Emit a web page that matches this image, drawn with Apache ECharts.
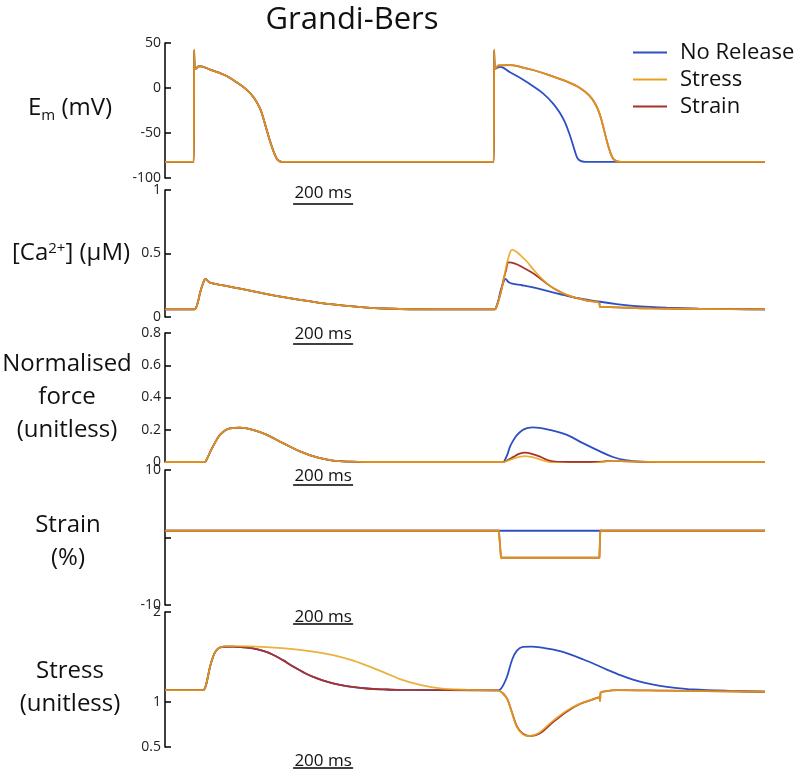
<!DOCTYPE html>
<html><head><meta charset="utf-8">
<script src="https://cdn.jsdelivr.net/npm/echarts@6/dist/echarts.min.js"></script>
<style>html,body{margin:0;padding:0;background:#fff}#c{width:800px;height:771px}</style>
</head><body><div id="c"></div>
<script>
// ---------- DATA (time in ms, value in panel units) ----------
const seriesNames = ['No Release', 'Stress', 'Strain'];
const scaleBarMs = 200;
const scaleBarStart = 427;

// Membrane potential (mV)
const emBeat1 = [[0,-82],[90,-82],[96,-82],[97,42],[98,30],[100,21],[105,22],[112,24],[120,24],[150,20.5],[180,17],[207,13],[240,6],[273,-2],[297,-11],[317,-23],[330,-36],[342,-50],[354,-63],[366,-74],[376,-80],[390,-82],[420,-82],[1090,-82],[1096,-82]];
const emNoRelease2 = [[1097,42],[1098,30],[1100,21],[1105,22],[1117,23.5],[1150,17.5],[1190,10],[1227,2],[1260,-6],[1293,-17],[1315,-27],[1333,-38],[1347,-50],[1358,-61],[1367,-71],[1375,-78],[1385,-81],[1400,-82],[1430,-82],[2000,-82]];
const emStress2 = [[1097,42],[1098,30],[1100,21],[1105,23],[1112,25],[1150,25.5],[1190,23],[1227,20],[1283,14],[1340,7],[1383,0],[1413,-8],[1435,-18],[1450,-30],[1460,-42],[1469,-54],[1478,-65],[1487,-74],[1495,-79],[1507,-81.5],[1520,-82],[1550,-82],[2000,-82]];
const emStrain2 = [[1097,42],[1098,30],[1100,21],[1105,23],[1112,25],[1150,25.5],[1190,23],[1227,20],[1283,14],[1340,7],[1383,0],[1413,-8],[1435,-18],[1450,-30],[1460,-42],[1469,-54],[1478,-65],[1487,-74],[1495,-79],[1507,-81.5],[1520,-82],[1550,-82],[2000,-82]];

// Calcium (uM)
const caBeat1 = [[0,0.06],[90,0.06],[97,0.06],[103,0.07],[110,0.12],[118,0.2],[126,0.26],[135,0.3],[142,0.285],[150,0.27],[180,0.255],[227,0.234],[283,0.207],[340,0.18],[395,0.156],[450,0.135],[505,0.116],[560,0.1],[617,0.085],[673,0.074],[730,0.067],[783,0.063],[900,0.06],[1095,0.06],[1100,0.06]];
const caNoRelease2 = [[1103,0.07],[1110,0.12],[1118,0.2],[1126,0.26],[1135,0.3],[1145,0.275],[1157,0.262],[1190,0.25],[1227,0.234],[1283,0.2],[1340,0.167],[1395,0.141],[1450,0.12],[1505,0.102],[1560,0.088],[1617,0.079],[1673,0.073],[1780,0.066],[1900,0.062],[2000,0.06]];
const caStress2 = [[1103,0.07],[1112,0.13],[1120,0.2],[1128,0.28],[1136,0.38],[1145,0.47],[1157,0.53],[1170,0.515],[1183,0.49],[1207,0.435],[1233,0.36],[1260,0.292],[1293,0.228],[1327,0.186],[1373,0.148],[1410,0.128],[1447,0.113],[1450,0.08],[1460,0.079],[1507,0.076],[1617,0.068],[1783,0.063],[2000,0.06]];
const caStrain2 = [[1103,0.07],[1112,0.13],[1120,0.2],[1128,0.29],[1137,0.37],[1145,0.43],[1167,0.42],[1193,0.39],[1223,0.35],[1250,0.305],[1277,0.255],[1307,0.21],[1340,0.172],[1373,0.148],[1410,0.128],[1447,0.113],[1450,0.08],[1460,0.079],[1507,0.076],[1617,0.068],[1783,0.063],[2000,0.06]];

// Normalised force (unitless)
const forceBeat1 = [[0,0],[125,0],[133,0],[140,0.02],[150,0.06],[160,0.097],[172,0.137],[183,0.168],[200,0.196],[217,0.209],[250,0.213],[293,0.199],[340,0.168],[393,0.117],[450,0.066],[507,0.028],[560,0.009],[620,0.002],[673,0],[1120,0],[1127,0]];
const forceNoRelease2 = [[1135,0.02],[1143,0.055],[1150,0.095],[1162,0.137],[1173,0.167],[1190,0.196],[1207,0.21],[1227,0.215],[1283,0.199],[1340,0.168],[1393,0.117],[1450,0.066],[1493,0.031],[1540,0.01],[1590,0.002],[1640,0],[2000,0]];
const forceStress2 = [[1145,0.01],[1167,0.024],[1185,0.034],[1200,0.037],[1220,0.032],[1240,0.022],[1265,0.007],[1290,-0.004],[1340,-0.01],[1420,-0.01],[1450,-0.003],[1470,0.004],[1493,0.007],[1560,0.003],[1673,0],[2000,0]];
const forceStrain2 = [[1145,0.015],[1160,0.03],[1180,0.05],[1200,0.058],[1220,0.052],[1250,0.033],[1275,0.012],[1300,0.002],[1350,0],[1440,0],[1470,0.005],[1493,0.007],[1540,0.004],[1650,0],[2000,0]];

// Strain (%)
const strainNoRelease = [[0,1],[2000,1]];
const strainStress = [[0,1],[1113,1],[1120,-3],[1448,-3],[1451,1],[2000,1]];
const strainStrain = [[0,1],[1113,1],[1120,-3],[1448,-3],[1451,1],[2000,1]];

// Stress (unitless)
const stressBeat1 = [[0,1.133],[120,1.133],[127,1.133],[135,1.17],[143,1.28],[150,1.39],[160,1.5],[170,1.57],[183,1.605],[200,1.614],[227,1.615],[260,1.608],[293,1.595],[330,1.565],[360,1.525],[393,1.465],[427,1.395],[467,1.32],[507,1.262],[545,1.22],[583,1.19],[630,1.165],[673,1.15],[730,1.14],[783,1.134],[1100,1.13],[1110,1.13]];
const stressStressBeat1 = [[0,1.133],[120,1.133],[127,1.133],[135,1.17],[143,1.28],[150,1.39],[160,1.5],[170,1.57],[183,1.605],[200,1.617],[227,1.62],[340,1.61],[450,1.58],[505,1.555],[560,1.52],[617,1.47],[673,1.405],[730,1.33],[783,1.255],[850,1.19],[917,1.152],[1007,1.135],[1100,1.13],[1110,1.13]];
const stressNoRelease2 = [[1118,1.14],[1128,1.19],[1140,1.28],[1157,1.47],[1173,1.57],[1193,1.612],[1220,1.615],[1250,1.608],[1317,1.565],[1393,1.475],[1473,1.36],[1520,1.295],[1560,1.248],[1600,1.212],[1650,1.18],[1700,1.158],[1760,1.14],[1880,1.124],[2000,1.114]];
const stressStress2 = [[1125,1.1],[1140,1.04],[1157,0.874],[1173,0.72],[1193,0.64],[1210,0.622],[1230,0.632],[1250,0.665],[1293,0.79],[1340,0.905],[1383,0.982],[1427,1.03],[1447,1.05],[1450,1.014],[1452,1.103],[1460,1.115],[1507,1.133],[1673,1.126],[2000,1.114]];
const stressStrain2 = [[1125,1.1],[1140,1.04],[1157,0.88],[1173,0.73],[1193,0.648],[1220,0.622],[1250,0.652],[1293,0.775],[1340,0.895],[1383,0.978],[1427,1.03],[1447,1.05],[1450,1.014],[1452,1.103],[1460,1.115],[1507,1.133],[1673,1.126],[2000,1.114]];

// ---------- STYLE / LAYOUT ----------
const colors = ['#2d4fc4', '#e6a31c', '#a8322a']; // No Release, Stress, Strain
const FONT = 'Open Sans';
const AXIS_X = 165;

const panels = [
  { top: 43, height: 135, min: -100, max: 50, interval: 50, smooth: 0.35,
    name: '{t|E}{sub|m}{t| (mV)}', nameGap: 95, pad: [0,0,5,0],
    data: [emBeat1.concat(emNoRelease2), emBeat1.concat(emStress2), emBeat1.concat(emStrain2)],
    barText: 193, barLine: 204 },
  { top: 190, height: 127, min: 0, max: 1, interval: 0.5, smooth: 0.35,
    name: '{t|[Ca}{sup|2+}{t|] (μM)}', nameGap: 94, pad: [0,0,0,0],
    data: [caBeat1.concat(caNoRelease2), caBeat1.concat(caStress2), caBeat1.concat(caStrain2)],
    barText: 334, barLine: 344 },
  { top: 333, height: 129, min: 0, max: 0.8, interval: 0.2, smooth: 0.35,
    name: 'Normalised\nforce\n(unitless)', nameGap: 98, pad: [0,0,0,0],
    data: [forceBeat1.concat(forceNoRelease2), forceBeat1.concat(forceStress2), forceBeat1.concat(forceStrain2)],
    barText: 476, barLine: 485 },
  { top: 470, height: 135, min: -10, max: 10, interval: 10, smooth: false,
    name: 'Strain\n(%)', nameGap: 97, pad: [8,0,0,0], hideZero: true,
    data: [strainNoRelease, strainStress, strainStrain],
    barText: 617, barLine: 624 },
  { top: 612, height: 135, min: 0.5, max: 2, custom: [0.5, 1, 2], smooth: 0.35,
    name: 'Stress\n(unitless)', nameGap: 95, pad: [16,0,0,0],
    data: [stressBeat1.concat(stressNoRelease2), stressStressBeat1.concat(stressStress2), stressBeat1.concat(stressStrain2)],
    barText: 761, barLine: 768 }
];

const grids = [], xAxes = [], yAxes = [], series = [];
const zOrder = [2, 4, 3]; // Stress drawn on top, then Strain, then No Release
panels.forEach((p, i) => {
  grids.push({ left: AXIS_X, width: 600, top: p.top, height: p.height, outerBoundsMode: 'none', containLabel: false });
  xAxes.push({ gridIndex: i, type: 'value', min: 0, max: 2000, show: false });
  const y = {
    gridIndex: i, type: 'value', min: p.min, max: p.max,
    name: p.name, nameLocation: 'middle', nameRotate: 0, nameGap: p.nameGap,
    nameTextStyle: {
      fontFamily: FONT, fontSize: 24, color: '#111', align: 'center', verticalAlign: 'middle',
      lineHeight: 33, padding: p.pad,
      rich: {
        t: { fontFamily: FONT, fontSize: 24, color: '#111', lineHeight: 30 },
        sub: { fontFamily: FONT, fontSize: 15, color: '#111', lineHeight: 15, verticalAlign: 'bottom' },
        sup: { fontFamily: FONT, fontSize: 15, color: '#111', lineHeight: 15, verticalAlign: 'top', padding: [3,0,0,0] }
      }
    },
    axisLine: { show: true, lineStyle: { color: '#000', width: 1.5 } },
    axisTick: { show: true, inside: true, length: 6, lineStyle: { color: '#000', width: 1.5 } },
    splitLine: { show: false },
    axisLabel: { fontFamily: FONT, fontSize: 14, color: '#222', margin: 4, showMinLabel: true, showMaxLabel: true, hideOverlap: false,
      formatter: v => (p.hideZero && v === 0) ? '' : String(v) }
  };
  if (p.custom) {
    y.axisLabel.customValues = p.custom;
    y.axisTick.customValues = p.custom;
  } else {
    y.interval = p.interval;
  }
  yAxes.push(y);
  p.data.forEach((d, k) => {
    series.push({
      name: seriesNames[k], type: 'line', xAxisIndex: i, yAxisIndex: i,
      data: d, showSymbol: false, symbol: 'none', smooth: p.smooth,
      lineStyle: { color: colors[k], width: 1.8, opacity: k === 1 ? 0.85 : 1 },
      itemStyle: { color: colors[k] },
      z: zOrder[k], animation: false
    });
  });
});

const chart = echarts.init(document.getElementById('c'));
chart.setOption({
  animation: false,
  backgroundColor: '#fff',
  textStyle: { fontFamily: FONT },
  title: { text: 'Grandi-Bers', left: 347, textAlign: 'center', top: 0,
    textStyle: { fontFamily: FONT, fontSize: 31, fontWeight: 'normal', color: '#111' } },
  legend: {
    data: seriesNames, orient: 'vertical', left: 633, top: 39, padding: 0,
    icon: 'rect', itemWidth: 34, itemHeight: 2, itemGap: 0,
    textStyle: { fontFamily: FONT, fontSize: 22, color: '#111', lineHeight: 27, padding: [0,0,0,8] }
  },
  grid: grids, xAxis: xAxes, yAxis: yAxes, series: series
});

// scale bars "200 ms" placed with the time axis of each panel
const graphics = [];
panels.forEach((p, i) => {
  const x0 = chart.convertToPixel({ gridIndex: i }, [scaleBarStart, p.min])[0];
  const x1 = chart.convertToPixel({ gridIndex: i }, [scaleBarStart + scaleBarMs, p.min])[0];
  graphics.push({ type: 'line', shape: { x1: x0, y1: p.barLine, x2: x1, y2: p.barLine }, style: { stroke: '#000', lineWidth: 1.5 } });
  graphics.push({ type: 'text', x: (x0 + x1) / 2, y: p.barText,
    style: { text: scaleBarMs + ' ms', fontFamily: FONT, fontSize: 17, fill: '#111', align: 'center', verticalAlign: 'middle' } });
});
chart.setOption({ graphic: graphics });
</script></body></html>
